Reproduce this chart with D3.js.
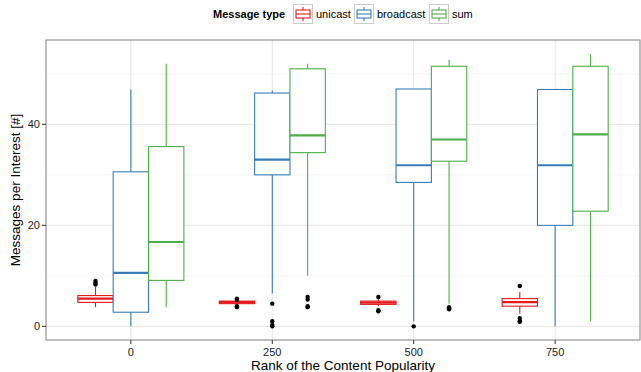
<!DOCTYPE html>
<html><head><meta charset="utf-8">
<script src="https://cdn.jsdelivr.net/npm/d3@7"></script>
<style>body{margin:0;background:#fff}svg{display:block;font-family:"Liberation Sans",Arial,Helvetica,sans-serif}</style>
</head><body><svg id="c" width="641" height="372"></svg>
<script>
const categories = ["0","250","500","750"];
const seriesNames = ["unicast","broadcast","sum"];
const seriesColors = ["#E41A1C","#377EB8","#4DAF4A"];
// [lowerWhisker, q1, median, q3, upperWhisker] per series, per category
const unicastStats = [[3.8,4.75,5.5,6.1,7.8],[4.3,4.5,4.8,5.0,5.2],[4.0,4.35,4.7,5.0,5.4],[2.5,4.0,4.8,5.5,6.8]];
const broadcastStats = [[0,2.8,10.6,30.6,46.9],[6.5,30.0,33.0,46.2,46.7],[1.0,28.5,31.9,47.0,47.0],[0,20.0,31.9,46.9,47.0]];
const sumStats = [[3.8,9.1,16.7,35.6,52.0],[10.0,34.4,37.8,51.0,52.0],[4.5,32.7,37.0,51.5,52.8],[1.0,22.8,38.0,51.5,53.9]];
const unicastOutliers = [[9.0,8.3,8.6],[5.5,5.2,4.0,3.8],[5.8,3.2,3.0],[8.0,1.6,1.0,0.9]];
const broadcastOutliers = [[],[4.5,1.0,0.3,0],[0],[]];
const sumOutliers = [[],[5.8,5.3,4.0,3.8],[3.8,3.6,3.4],[]];
const yTicks = [0,20,40];
const yMinor = [10,30,50];

const allStats=[unicastStats,broadcastStats,sumStats];
const allOut=[unicastOutliers,broadcastOutliers,sumOutliers];
const svg=d3.select("#c");
const L=46,R=640,T=40,B=340;
const x=d3.scaleBand().domain(categories).range([L,R]).paddingOuter(0.6/ (1)).paddingInner(0);
// discrete expansion 0.6 units each side
const step=(R-L)/(categories.length-1+1.2);
const xc=d=>L+0.6*step+categories.indexOf(d)*step;
const y=d3.scaleLinear().domain([-2.7,56.7]).range([B,T]);
const dodge=d3.scaleBand().domain(seriesNames).range([-0.375*step,0.375*step]);

// grid
const g=svg.append("g");
g.append("rect").attr("x",L).attr("y",T).attr("width",R-L).attr("height",B-T).attr("fill","#fff");
yMinor.forEach(v=>g.append("line").attr("x1",L).attr("x2",R).attr("y1",y(v)).attr("y2",y(v)).attr("stroke","#f5f5f5").attr("stroke-width",0.8));
yTicks.forEach(v=>g.append("line").attr("x1",L).attr("x2",R).attr("y1",y(v)).attr("y2",y(v)).attr("stroke","#e6e6e6").attr("stroke-width",1));
categories.forEach(c=>g.append("line").attr("x1",xc(c)).attr("x2",xc(c)).attr("y1",T).attr("y2",B).attr("stroke","#e6e6e6").attr("stroke-width",1));

// boxes
seriesNames.forEach((s,si)=>{
  categories.forEach((c,ci)=>{
    const st=allStats[si][ci];
    const cx=xc(c)+dodge(s)+dodge.bandwidth()/2;
    const w=dodge.bandwidth();
    const col=seriesColors[si];
    const bg=svg.append("g");
    bg.append("line").attr("x1",cx).attr("x2",cx).attr("y1",y(st[0])).attr("y2",y(st[1])).attr("stroke",col).attr("stroke-width",1.1);
    bg.append("line").attr("x1",cx).attr("x2",cx).attr("y1",y(st[3])).attr("y2",y(st[4])).attr("stroke",col).attr("stroke-width",1.1);
    bg.append("rect").attr("x",cx-w/2).attr("width",w).attr("y",y(st[3])).attr("height",Math.max(0.5,y(st[1])-y(st[3]))).attr("fill","#fff").attr("stroke",col).attr("stroke-width",1.1);
    bg.append("line").attr("x1",cx-w/2).attr("x2",cx+w/2).attr("y1",y(st[2])).attr("y2",y(st[2])).attr("stroke",col).attr("stroke-width",2.2);
    allOut[si][ci].forEach(v=>bg.append("circle").attr("cx",cx).attr("cy",y(v)).attr("r",2.2).attr("fill","#000"));
  });
});

// border
svg.append("rect").attr("x",L).attr("y",T).attr("width",R-L).attr("height",B-T).attr("fill","none").attr("stroke","#7f7f7f").attr("stroke-width",1);

// axes
categories.forEach(c=>{
  svg.append("line").attr("x1",xc(c)).attr("x2",xc(c)).attr("y1",B).attr("y2",B+4).attr("stroke","#333").attr("stroke-width",1);
  svg.append("text").attr("x",xc(c)).attr("y",B+16).attr("text-anchor","middle").attr("font-size",11).attr("fill","#222").text(c);
});
yTicks.forEach(v=>{
  svg.append("line").attr("x1",L-4).attr("x2",L).attr("y1",y(v)).attr("y2",y(v)).attr("stroke","#333").attr("stroke-width",1);
  svg.append("text").attr("x",L-6).attr("y",y(v)+4).attr("text-anchor","end").attr("font-size",11).attr("fill","#222").text(v);
});
svg.append("text").attr("x",(L+R)/2).attr("y",370).attr("text-anchor","middle").attr("font-size",13.5).attr("fill","#000").text("Rank of the Content Popularity");
svg.append("text").attr("transform",`translate(20,${(T+B)/2}) rotate(-90)`).attr("text-anchor","middle").attr("font-size",13.5).attr("fill","#000").text("Messages per Interest [#]");

// legend
svg.append("text").attr("x",213).attr("y",18).attr("font-size",11).attr("font-weight","bold").text("Message type");
const keyX=[293,354,429];
seriesNames.forEach((s,i)=>{
  const kx=keyX[i], ky=4, col=seriesColors[i];
  svg.append("rect").attr("x",kx+0.5).attr("y",ky+0.5).attr("width",19).attr("height",19).attr("fill","#fff").attr("stroke","#ccc");
  svg.append("line").attr("x1",kx+10).attr("x2",kx+10).attr("y1",ky+3).attr("y2",ky+17).attr("stroke",col).attr("stroke-width",1.1);
  svg.append("rect").attr("x",kx+3).attr("y",ky+6).attr("width",14).attr("height",8).attr("fill","#fff").attr("stroke",col).attr("stroke-width",1.1);
  svg.append("line").attr("x1",kx+3).attr("x2",kx+17).attr("y1",ky+10).attr("y2",ky+10).attr("stroke",col).attr("stroke-width",1.1);
  svg.append("text").attr("x",kx+23).attr("y",18).attr("font-size",11).text(s);
});
</script></body></html>
